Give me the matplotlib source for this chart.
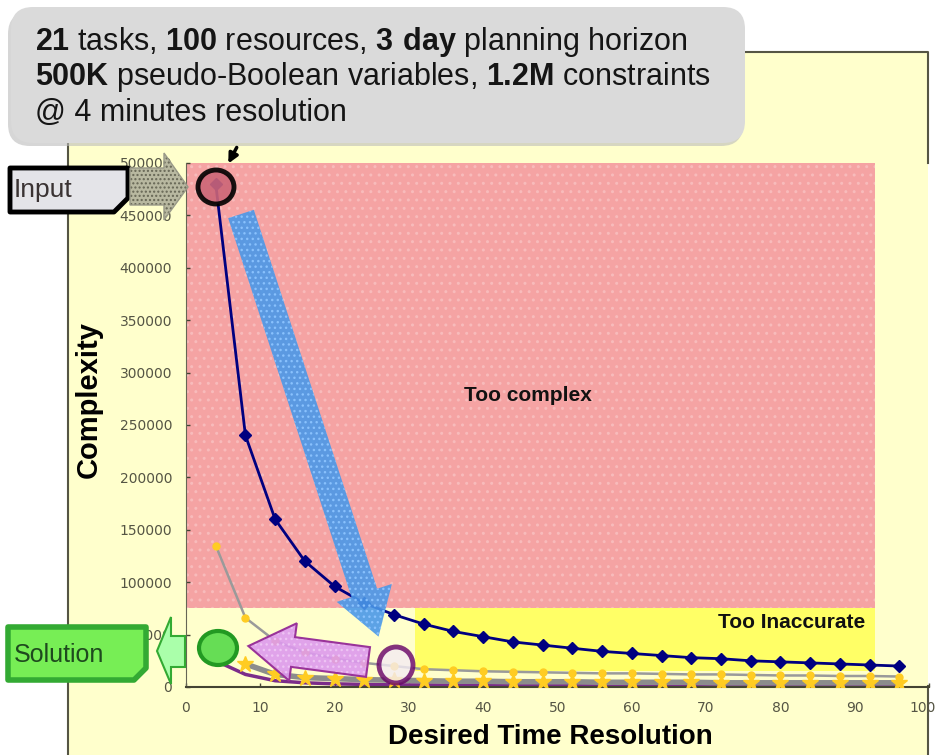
import matplotlib
matplotlib.use('Agg')
import matplotlib.pyplot as plt
from matplotlib.patches import Rectangle, Ellipse, Polygon, FancyArrow, FancyBboxPatch
from matplotlib.transforms import ScaledTranslation

plt.rcParams['font.family'] = ['Liberation Sans', 'DejaVu Sans']
plt.rcParams['mathtext.fontset'] = 'custom'
plt.rcParams['mathtext.rm'] = 'Liberation Sans'
plt.rcParams['mathtext.bf'] = 'Liberation Sans:bold'
plt.rcParams['hatch.linewidth'] = 1.0

# data
resolution = [4, 8, 12, 16, 20, 24, 28, 32, 36, 40, 44, 48,
              52, 56, 60, 64, 68, 72, 76, 80, 84, 88, 92, 96]
complexity = [480000, 240000, 160000, 120000, 96000, 80000, 69000, 60000,
              53000, 48000, 43000, 40000, 37000, 34000, 32000, 30000,
              28000, 27000, 25000, 24000, 23000, 22000, 21000, 20000]
complexity_b = [135000, 66000, 44000, 33000, 27000, 23000, 20000, 17000,
                16000, 15000, 14500, 14000, 13500, 13000, 13000, 12500,
                12000, 12000, 11500, 11000, 11000, 10500, 10500, 10000]
complexity_c = [None, 22000, 12000, 9000, 8000, 7000, 6500, 6000,
                5500, 5500, 5000, 5000, 5000, 4500, 4500, 4500,
                4500, 4000, 4000, 4000, 4000, 4000, 4000, 4000]
complexity_d = [25000, 12000, 6000, 4000, 3000, 2500, 2000, 2000,
                1800, 1800, 1500, 1500, 1500, 1500, 1500, 1500,
                1500, 1500, 1500, 1500, 1500, 1500, 1500, 1500]

x_ticks = [0, 10, 20, 30, 40, 50, 60, 70, 80, 90, 100]
y_ticks = [0, 50000, 100000, 150000, 200000, 250000,
           300000, 350000, 400000, 450000, 500000]

# regions (data units)
complex_region = (0, 92.7, 75000, 500000)
inaccurate_region = (30.8, 92.7, 15000, 75000)

W, H = 939, 755
fig = plt.figure(figsize=(W / 100, H / 100), dpi=100)
fig.patch.set_facecolor('white')

# background panel
bg = fig.add_axes([0, 0, 1, 1], zorder=0)
bg.set_xlim(0, W)
bg.set_ylim(H, 0)
bg.axis('off')
bg.add_patch(Rectangle((68, 52), 860, 720, fc='#FFFFCC', ec='none'))
bg.plot([68, 68, 928, 928], [760, 52, 52, 163], color='#555544', lw=1.5)
bg.plot([928, 928], [686, 760], color='#555544', lw=1.5)

# main chart
ax = fig.add_axes([186 / W, 1 - 687 / H, 743 / W, 524 / H], zorder=1)
ax.set_facecolor('none')
ax.set_xlim(0, 100)
ax.set_ylim(0, 500000)

x0, x1, y0, y1 = complex_region
ax.add_patch(Rectangle((x0, y0), x1 - x0, y1 - y0, fc='#F5A3A3',
                       ec='#F8BBBB', hatch='..', lw=0, zorder=0))
x0, x1, y0, y1 = inaccurate_region
ax.add_patch(Rectangle((x0, y0), x1 - x0, y1 - y0, fc='#FFFF66',
                       ec='none', lw=0, zorder=0))

ax.plot(resolution, complexity_d, color='#7B2C8A', lw=2.5, zorder=2)
ax.plot(resolution, complexity_c, color='#8C8C8C', lw=4, marker='*',
        ms=12, mfc='#FFCC22', mec='#FFCC22', zorder=3)
ax.plot(resolution, complexity_b, color='#9A9A9A', lw=1.8, marker='o',
        ms=5, mfc='#FFCC22', mec='#FFCC22', zorder=4)
ax.plot(resolution, complexity, color='#000080', lw=2, marker='D',
        ms=6, zorder=5)

ax.text(46, 278000, 'Too complex', fontsize=15, fontweight='bold',
        ha='center', va='center', color='#111111')
ax.text(81.5, 62000, 'Too Inaccurate', fontsize=15, fontweight='bold',
        ha='center', va='center', color='#111111')

ax.set_xticks(x_ticks)
ax.set_yticks(y_ticks)
ax.set_xticklabels([str(v) for v in x_ticks], family='DejaVu Sans')
ax.set_yticklabels([str(v) for v in y_ticks], family='DejaVu Sans')
ax.tick_params(direction='in', length=3, width=1, labelsize=10,
               labelcolor='#555544', color='#444433', pad=10)
# last x label sits against the right edge of the picture
last = ax.get_xticklabels()[-1]
last.set_transform(last.get_transform() + ScaledTranslation(-6 / 100, 0, fig.dpi_scale_trans))
for s in ['top', 'right']:
    ax.spines[s].set_visible(False)
ax.spines['left'].set_color('#666655')
ax.spines['bottom'].set_color('#444433')
ax.spines['bottom'].set_linewidth(1.5)

ax.set_xlabel('Desired Time Resolution', fontsize=20, fontweight='bold')
ax.set_ylabel('Complexity', fontsize=21, fontweight='bold')
ax.xaxis.set_label_coords(0.49, -0.071)
ax.yaxis.set_label_coords(-0.112, 0.548)

# overlay decorations (pixel coordinates)
ov = fig.add_axes([0, 0, 1, 1], zorder=2)
ov.set_xlim(0, W)
ov.set_ylim(H, 0)
ov.axis('off')

# info box
ov.add_patch(FancyBboxPatch((8, 12), 735, 134, boxstyle='round,pad=0,rounding_size=22',
                            fc='#BBBBBB', ec='none', alpha=0.6))
ov.add_patch(FancyBboxPatch((11, 7), 734, 136, boxstyle='round,pad=0,rounding_size=22',
                            fc='#DADADA', ec='none'))
lines = [r'$\mathbf{21}$ tasks, $\mathbf{100}$ resources, $\mathbf{3\ day}$ planning horizon',
         r'$\mathbf{500K}$ pseudo-Boolean variables, $\mathbf{1.2M}$ constraints',
         r'@ 4 minutes resolution']
for i, t in enumerate(lines):
    ov.text(35, 42 + i * 35.5, t, fontsize=22, va='center', ha='left', color='#151515')

ov.annotate('', xy=(227, 166), xytext=(238, 145),
            arrowprops=dict(arrowstyle='-|>', color='black', lw=2.5, mutation_scale=14))

# input marker
ov.add_patch(Ellipse((216, 187), 36, 34, fc='#CC6677', ec='black', lw=3.5, alpha=0.9))
ov.add_patch(Polygon([(10, 168), (128, 168), (128, 198), (114, 212), (10, 212)],
                     closed=True, fc='#E4E4E8', ec='black', lw=3.5, joinstyle='round'))
ov.text(14, 190, 'Input', fontsize=19, va='center', ha='left', color='#3A3333')
arrow_in = [(130, 168), (164, 168), (164, 153), (188, 187), (164, 220), (164, 205), (130, 205)]
ov.add_patch(Polygon(arrow_in, closed=True, fc='#B8B8A0', ec='#666655', hatch='....', lw=0))
ov.add_patch(Polygon(arrow_in, closed=True, fc='none', ec='#999988', lw=1))

# blue arrow
ov.add_patch(FancyArrow(241, 214, 137 * 0.9, 421 * 0.9, width=27, head_width=58,
                        head_length=46, length_includes_head=False,
                        fc='#4A98E8', ec='#8CC4FF', hatch='...', lw=0, alpha=0.9))

# pink arrow
ov.add_patch(FancyArrow(368, 662, -75, -10, width=30, head_width=58, head_length=45,
                        fc='#DD99EE', ec='#EFC6F5', hatch='...', lw=0, alpha=0.9))
ov.add_patch(FancyArrow(368, 662, -75, -10, width=30, head_width=58, head_length=45,
                        fc='none', ec='#993399', lw=1.5))

# purple and green circles
ov.add_patch(Ellipse((396, 665), 34, 36, fc='#F4ECF4', ec='#660066', lw=3.5, alpha=0.8))
ov.add_patch(Ellipse((218, 648), 38, 34, fc='#66DD55', ec='#229922', lw=3))

# solution marker
arrow_out = [(185, 636), (171, 636), (171, 617), (157, 651), (171, 684), (171, 667), (185, 667)]
ov.add_patch(Polygon(arrow_out, closed=True, fc='#AAFFAA', ec='#33AA33', lw=1.5))
ov.add_patch(Polygon([(8, 627), (146, 627), (146, 668), (134, 680), (8, 680)],
                     closed=True, fc='#77EE55', ec='#33AA33', lw=4, joinstyle='round'))
ov.text(14, 655, 'Solution', fontsize=18, va='center', ha='left', color='#1E4A1E')

fig.savefig('out.png', dpi=100)
